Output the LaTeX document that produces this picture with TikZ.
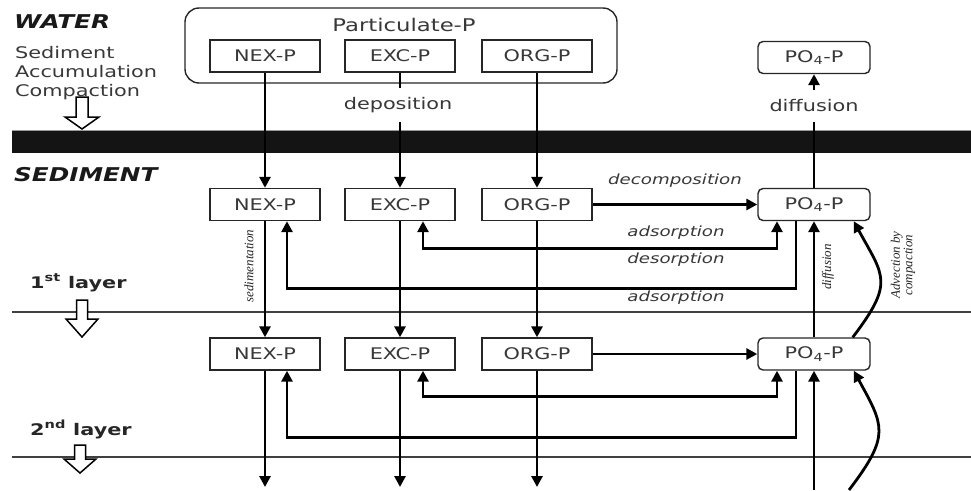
\documentclass[tikz,border=0pt]{standalone}
\usepackage{fontspec}
\setmainfont{DejaVu Sans}[FakeStretch=1.3]
\newfontfamily\condserif{Liberation Serif}
\usetikzlibrary{arrows.meta,calc}
\definecolor{txt}{gray}{0.22}
\begin{document}
\begin{tikzpicture}[x=1pt,y=-1pt,
  box/.style={draw=black!85,line width=1.4pt,minimum width=110pt,minimum height=32pt,inner sep=0pt,fill=white,font=\fontsize{16}{18}\selectfont,text=txt},
  rbox/.style={box,rounded corners=5pt,minimum width=112pt},
  arr/.style={line width=2.8pt,-{Triangle[length=11pt,width=11pt]}},
  darr/.style={line width=2.8pt,{Triangle[length=11pt,width=11pt]}-{Triangle[length=11pt,width=11pt]}},
  lab/.style={font=\fontsize{14}{16}\selectfont\itshape,text=txt,inner sep=1pt},
  vlab/.style={font=\condserif\itshape\fontsize{13}{12.5}\selectfont,rotate=90,text=black!85,inner sep=0pt,align=center},
  hollow/.style={draw=black,line width=1.5pt,fill=white,line join=miter},
  big/.style={font=\fontsize{19}{20}\selectfont\bfseries\itshape,text=black!90,inner sep=0pt},
  lay/.style={font=\fontsize{16}{18}\selectfont\bfseries,text=black!85,inner sep=0pt},
  side/.style={font=\fontsize{16}{18}\selectfont,text=txt,inner sep=0pt}
]
\useasboundingbox (0,0) rectangle (971,490);

% water column / sediment boundaries
\fill[black!92] (12,130) rectangle (971,153);
\draw[black!40,line width=1pt] (12,130.5) -- (971,130.5);
\draw[line width=2pt,black!75] (12,312) -- (971,312);
\draw[line width=2pt,black!75] (12,457) -- (971,457);

% left labels
\node[big,anchor=west] (water) at (14,21.5) {WATER};
\node[side,anchor=base west] (s1) at (15,58) {Sediment};
\node[side,anchor=base west] (s2) at (15,77) {Accumulation};
\node[side,anchor=base west] (s3) at (15,96) {Compaction};
\node[big,anchor=west] (sed) at (14,175) {SEDIMENT};
\node[lay,anchor=base west] (l1) at (30,288) {1\textsuperscript{st} layer};
\node[lay,anchor=base west] (l2) at (30,435) {2\textsuperscript{nd} layer};

% hollow arrows
\draw[hollow] (76,97) -- (88,97) -- (88,117) -- (99,117) -- (82,129) -- (65,117) -- (76,117) -- cycle;
\draw[hollow] (76.5,300) -- (87.5,300) -- (87.5,319) -- (98,319) -- (82,337) -- (66,319) -- (76.5,319) -- cycle;
\draw[hollow] (74.5,445) -- (85.5,445) -- (85.5,459) -- (96,459) -- (80,473) -- (64,459) -- (74.5,459) -- cycle;

% particulate box
\node[draw=black!85,line width=1.4pt,rounded corners=14pt,minimum width=432pt,minimum height=75pt] (part) at (401,45.5) {};
\node[font=\fontsize{17.5}{18}\selectfont,text=txt,anchor=base,inner sep=0pt] (ptitle) at (404,31) {Particulate-P};

% boxes
\node[box] (nexT) at (265,56) {NEX-P};
\node[box] (excT) at (400,56) {EXC-P};
\node[box] (orgT) at (537,56) {ORG-P};
\node[rbox] (po4T) at (814,57.5) {PO\textsubscript{4}-P};

\node[box] (nex1) at (265,204.5) {NEX-P};
\node[box] (exc1) at (400,204.5) {EXC-P};
\node[box] (org1) at (537,204.5) {ORG-P};
\node[rbox] (po41) at (814,204.5) {PO\textsubscript{4}-P};

\node[box] (nex2) at (265,354) {NEX-P};
\node[box] (exc2) at (400,354) {EXC-P};
\node[box] (org2) at (537,354) {ORG-P};
\node[rbox] (po42) at (814,354) {PO\textsubscript{4}-P};

\coordinate (nexB) at (265,487);
\coordinate (excB) at (400,487);
\coordinate (orgB) at (537,487);
\coordinate (po4B) at (814,490);
\coordinate (advB) at (849,490);

% deposition
\draw[arr] (nexT) -- (nex1);
\draw[arr] (excT) -- (exc1);
\draw[arr] (orgT) -- (org1);
\node[font=\fontsize{16}{18}\selectfont,text=txt,fill=white,inner xsep=2pt,minimum height=34pt] (dep) at (398,105) {deposition};
% diffusion to water
\draw[arr] (po41) -- (po4T);
\node[font=\fontsize{16}{18}\selectfont,text=txt,fill=white,inner xsep=2pt,minimum height=32pt] (dif) at (814,106) {diffusion};

% layer 1 internal fluxes
\draw[arr] (org1) -- (po41);
\node[lab] (decomp) at (675,181) {decomposition};
\draw[darr] ([xshift=23pt]exc1.south) -- ++(0,27) -| ([xshift=-37pt]po41.south);
\node[lab] (ads1) at (676,233) {adsorption};
\node[lab] (des1) at (676,260) {desorption};
\draw[arr] ([xshift=-18pt]po41.south) -- ++(0,67) -| ([xshift=22pt]nex1.south);
\node[lab] (ads2) at (676,298) {adsorption};

% layer 1 -> layer 2
\draw[arr] (nex1) -- (nex2);
\draw[arr] (exc1) -- (exc2);
\draw[arr] (org1) -- (org2);
\draw[arr] (po42) -- (po41);
\draw[arr] ([xshift=-18pt]po42.north east) .. controls +(42,-55) and +(30,55) .. ([xshift=-17pt]po41.south east);
\node[vlab] (sedl) at (249,266) {sedimentation};
\node[vlab] (difl) at (828,267) {diffusion};
\node[vlab] (advl) at (903,265) {Advection by\\compaction};

% layer 2 internal fluxes
\draw[arr] (org2) -- (po42);
\draw[darr] ([xshift=23pt]exc2.south) -- ++(0,26) -| ([xshift=-37pt]po42.south);
\draw[arr] ([xshift=-18pt]po42.south) -- ++(0,67) -| ([xshift=22pt]nex2.south);

% layer 2 -> below
\draw[arr] (nex2) -- (nexB);
\draw[arr] (exc2) -- (excB);
\draw[arr] (org2) -- (orgB);
\draw[arr] (po4B) -- (po42);
\draw[arr] (advB) .. controls +(42,-55) and +(30,55) .. ([xshift=-17pt]po42.south east);
\end{tikzpicture}
\end{document}
